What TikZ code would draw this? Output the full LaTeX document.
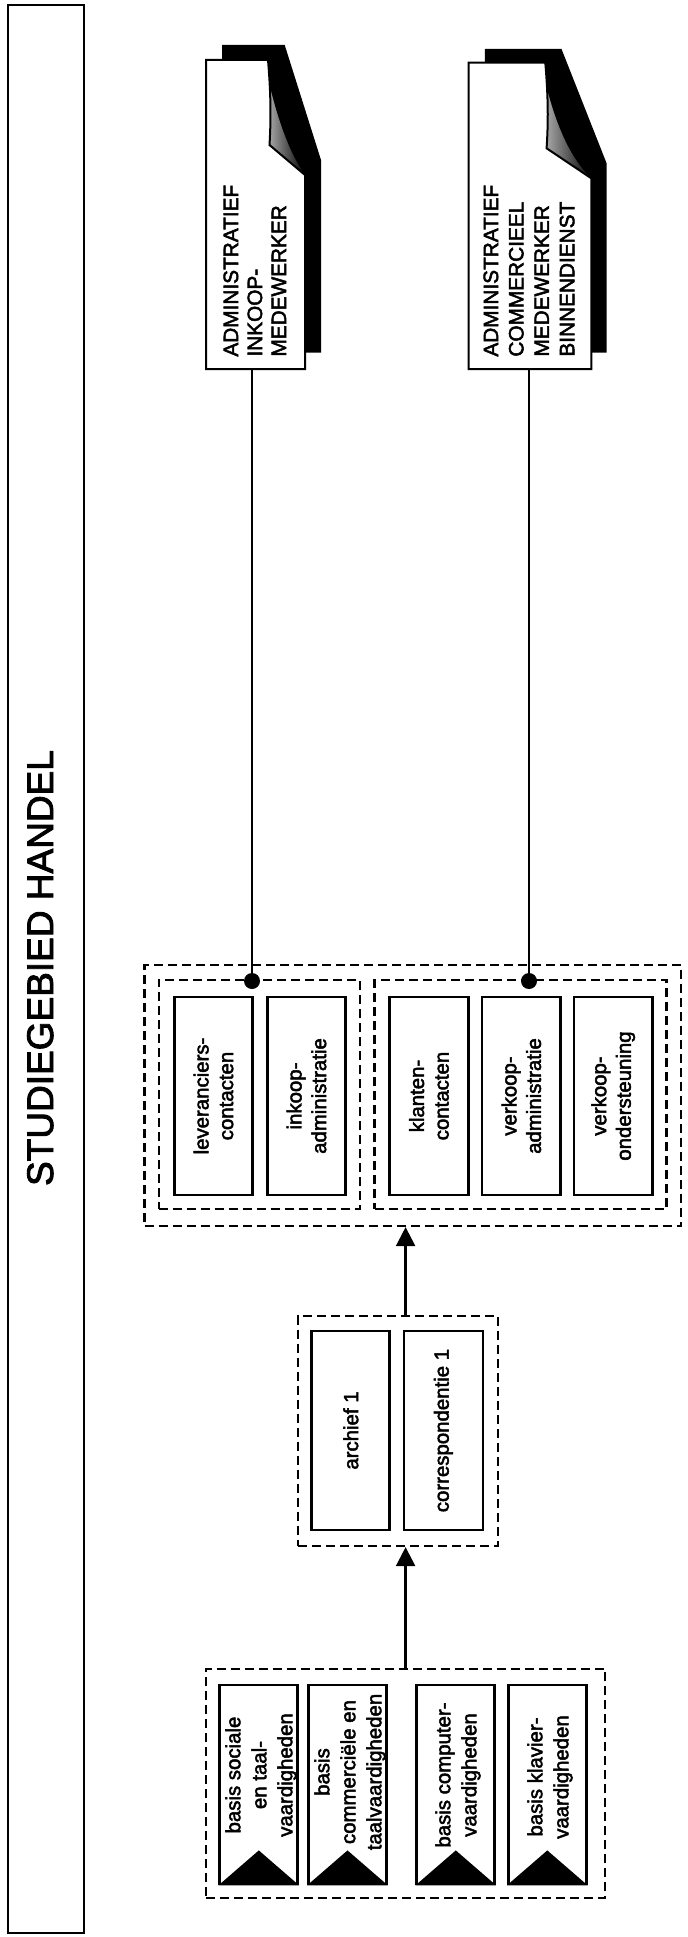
\documentclass[tikz,border=0pt]{standalone}
\usepackage{fontspec}
\setmainfont{Liberation Sans}[FakeBold=2.4]
\usetikzlibrary{arrows.meta}
\begin{document}
\begin{tikzpicture}[x=0.5pt,y=-0.5pt,
  grp/.style={draw, line width=1.1pt, dash pattern=on 4.5pt off 2.5pt, inner sep=0pt, rectangle},
  sbox/.style={draw, line width=1.4pt, rotate=90, inner sep=0pt, minimum width=99pt, minimum height=39.25pt, align=center, font=\fontsize{10.2}{12.3}\selectfont},
  fbox/.style={draw, line width=1.4pt, inner sep=0pt, minimum width=39pt, minimum height=99.5pt},
  btxt/.style={rotate=90, inner sep=0pt, align=center, font=\fontsize{10.2}{13}\selectfont},
  dtxt/.style={rotate=90, anchor=west, inner sep=0pt, align=left},
  dot/.style={circle, fill=black, inner sep=0pt, minimum size=8pt},
  conn/.style={line width=1pt},
  arr/.style={line width=1.2pt, -{Triangle[length=9.5pt, width=9.5pt]}},
  docfront/.style={draw, line width=1pt, fill=white, line join=miter}
]
\useasboundingbox (0,0) rectangle (687,1937);

% title band
\node[draw, line width=1.1pt, inner sep=0pt, minimum width=38pt, minimum height=964pt] (frame) at (46,969) {};
\node[rotate=90, anchor=base, inner sep=0pt, font=\fontsize{18.5}{22}\selectfont] (title) at (53,968) {STUDIEGEBIED HANDEL};

% document 1
\fill[black] (222,45) -- (284.7,45) -- (321,160) -- (321,352.7) -- (222,352.7) -- cycle;
\shade[left color=gray!60, right color=black!95] (266,70) .. controls (276,115) and (288,150) .. (303,172) -- (266,150) -- cycle;
\draw[docfront] (206,60) -- (268,60) .. controls (271,95) and (271,120) .. (269.5,145) -- (305,175) -- (305,369) -- (206,369) -- cycle;
\coordinate (doc1b) at (252,369);
\node[dtxt, font=\fontsize{10.4}{12}\selectfont] (doc1t) at (254.8,357) {ADMINISTRATIEF\\INKOOP-\\MEDEWERKER};

% document 2
\fill[black] (484.9,49) -- (561.5,49) -- (606.6,163.3) -- (606.6,352.7) -- (484.9,352.7) -- cycle;
\shade[left color=gray!60, right color=black!95] (543,72) .. controls (553,118) and (568,155) .. (589,176) -- (543,152) -- cycle;
\draw[docfront] (468.7,62.7) -- (545.3,62.7) .. controls (548.3,98) and (548.3,122) .. (546.6,148.3) -- (591.3,178.3) -- (591.3,369) -- (468.7,369) -- cycle;
\coordinate (doc2b) at (529,369);
\node[dtxt, font=\fontsize{10.4}{12.7}\selectfont] (doc2t) at (529,357) {ADMINISTRATIEF\\COMMERCIEEL\\MEDEWERKER\\BINNENDIENST};

% middle block
\node[grp, minimum width=268.25pt, minimum height=130.5pt] (g1) at (412.75,1095.5) {};
\node[grp, minimum width=100.7pt, minimum height=114.5pt] (g1a) at (259.3,1094.5) {};
\node[grp, minimum width=146pt, minimum height=114.5pt] (g1b) at (520.5,1094.5) {};
\node[sbox] (lev) at (213.5,1096) {leveranciers-\\contacten};
\node[sbox] (ink) at (306.5,1096) {inkoop-\\administratie};
\node[sbox] (kla) at (429,1096) {klanten-\\contacten};
\node[sbox] (vka) at (521.3,1096) {verkoop-\\administratie};
\node[sbox] (vko) at (613.2,1096) {verkoop-\\ondersteuning};
\node[dot] (d1) at (252,981) {};
\node[dot] (d2) at (529,981) {};
\draw[conn] (doc1b) -- (d1.center);
\draw[conn] (doc2b) -- (d2.center);

% archief block
\node[grp, minimum width=100.1pt, minimum height=115pt] (g2) at (397.9,1431) {};
\node[sbox, minimum width=99.5pt, minimum height=39pt] (arc) at (350.85,1430.5) {archief 1};
\node[sbox, minimum width=99.5pt, minimum height=39.5pt] (cor) at (443.4,1430.5) {correspondentie 1};

% basis block
\node[grp, minimum width=199.7pt, minimum height=114.5pt] (g3) at (405.6,1783.5) {};
\foreach \n/\x in {b1/258.8, b2/347.5, b3/455.8, b4/547.3} {
  \node[fbox] (\n) at (\x,1784.5) {};
  \fill[black] (\n.south west) -- ([yshift=17.5pt]\n.south) -- (\n.south east) -- cycle;
}
\node[btxt] (b1t) at (261,1775) {basis sociale\\en taal-\\vaardigheden};
\node[btxt] (b2t) at (350,1772) {basis\\commerciële en\\taalvaardigheden};
\node[btxt] (b3t) at (458,1775) {basis computer-\\vaardigheden};
\node[btxt] (b4t) at (550,1777) {basis klavier-\\vaardigheden};

% arrows
\draw[arr] (g3.north) -- (g3.north |- g2.south);
\draw[arr] (g3.north |- g2.north) -- (g3.north |- g1.south);
\end{tikzpicture}
\end{document}
